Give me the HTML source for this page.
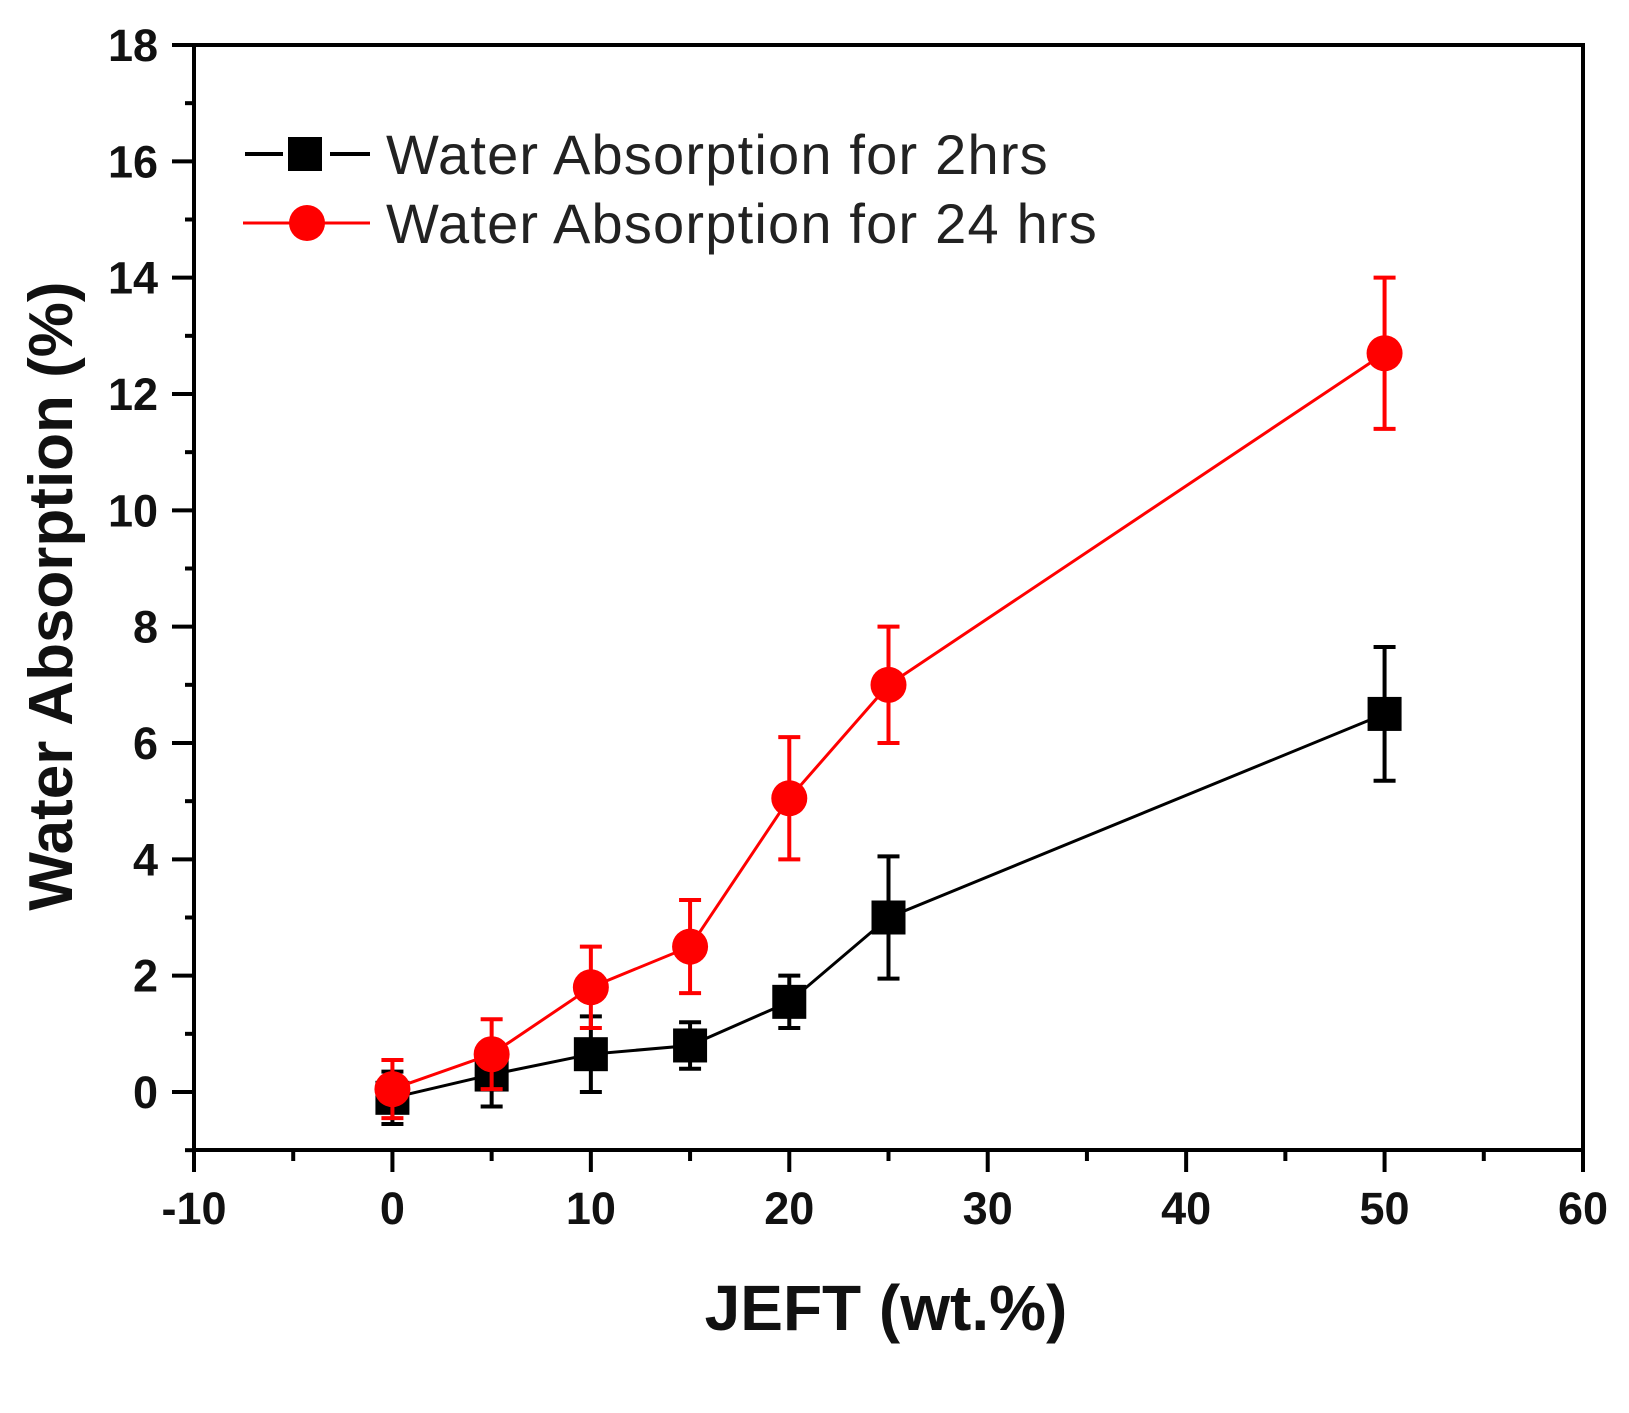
<!DOCTYPE html>
<html><head><meta charset="utf-8"><style>
html,body{margin:0;padding:0;background:#fff;}
svg{display:block;font-family:"Liberation Sans",Arial,sans-serif;}
</style></head><body>
<svg id="chart" width="1629" height="1413" viewBox="0 0 1629 1413">
<g id="plot"></g>
</svg>
<script>
const xTicks=[-10,0,10,20,30,40,50,60];
const yTicks=[0,2,4,6,8,10,12,14,16,18];
const xCats=[0,5,10,15,20,25,50];
const series2h=[-0.1,0.3,0.65,0.8,1.55,3.0,6.5];
const err2h=[0.45,0.55,0.65,0.4,0.45,1.05,1.15];
const series24h=[0.05,0.65,1.8,2.5,5.05,7.0,12.7];
const err24h=[0.5,0.6,0.7,0.8,1.05,1.0,1.3];

const L=194,R=1583,T=45,B=1150;
const X=v=>L+(v+10)/70*(R-L);
const Y0=1092,Y18=45;
const Y=v=>Y0+(Y18-Y0)*v/18;
const NS="http://www.w3.org/2000/svg";
const g=document.getElementById('plot');
function el(t,a,p){const e=document.createElementNS(NS,t);for(const k in a)e.setAttribute(k,a[k]);(p||g).appendChild(e);return e;}

const fr=el('rect',{x:L,y:T,width:R-L,height:B-T,fill:'none',stroke:'#000','stroke-width':4});



for(let v=-10;v<=60;v+=5){
  const major=v%10===0;
  const t=el('line',{x1:X(v),x2:X(v),y1:B,y2:B+(major?22:11),stroke:'#000','stroke-width':4});
  
  
}
xTicks.forEach(v=>{
  const t=el('text',{x:X(v),y:B+74,'font-size':45,'font-weight':'bold','text-anchor':'middle',fill:'#111'});
  t.textContent=v;
  
  
});
for(let v=-1;v<=18;v+=1){
  const major=v%2===0;
  const t=el('line',{x1:L,x2:L-(major?22:9),y1:Y(v),y2:Y(v),stroke:'#000','stroke-width':4});
  
  
}
yTicks.forEach(v=>{
  const t=el('text',{x:L-36,y:Y(v)+16,'font-size':45,'font-weight':'bold','text-anchor':'end',fill:'#111'});
  t.textContent=v;
  
  
});
const xt=el('text',{x:886,y:1330,'font-size':64,'font-weight':'bold','text-anchor':'middle',fill:'#111'});
xt.textContent='JEFT (wt.%)';


const yt=el('text',{x:0,y:0,'font-size':62,'font-weight':'bold','text-anchor':'middle',fill:'#111',transform:'translate(72,596) rotate(-90)'});
yt.textContent='Water Absorption (%)';



function drawSeries(vals,errs,color,shape,name){
  const pts=xCats.map((c,i)=>X(c)+','+Y(vals[i])).join(' ');
  const pl=el('polyline',{points:pts,fill:'none',stroke:color,'stroke-width':3});
  
  
  xCats.forEach((c,i)=>{
    const x=X(c),y=Y(vals[i]),hi=Y(vals[i]+errs[i]),lo=Y(vals[i]-errs[i]);
    const eb=el('path',{d:`M${x},${hi}V${lo}M${x-11},${hi}H${x+11}M${x-11},${lo}H${x+11}`,stroke:color,'stroke-width':4,fill:'none'});
    
    
    let m;
    if(shape==='sq') m=el('rect',{x:x-17,y:y-17,width:34,height:34,fill:color});
    else m=el('circle',{cx:x,cy:y,r:18,fill:color});
    
    
  });
}
drawSeries(series2h,err2h,'#000','sq','series-2hrs');
drawSeries(series24h,err24h,'#ff0000','ci','series-24hrs');

function legend(y,color,shape,label,name){
  let ln;
  if(shape==='sq'){
    ln=el('path',{d:`M245,${y}H283M330,${y}H370`,stroke:color,'stroke-width':4,fill:'none'});
  } else {
    ln=el('line',{x1:243,x2:370,y1:y,y2:y,stroke:color,'stroke-width':3});
  }
  
  
  let m;
  if(shape==='sq') m=el('rect',{x:288,y:y-17,width:34,height:34,fill:color});
  else m=el('circle',{cx:307,cy:y,r:18,fill:color});
  
  
  const t=el('text',{x:386,y:y+20,'font-size':56,fill:'#222','letter-spacing':'1.2'});
  t.textContent=label;
  
  
}
legend(154,'#000','sq','Water Absorption for 2hrs','series-2hrs');
legend(223,'#ff0000','ci','Water Absorption for 24 hrs','series-24hrs');
</script>
</body></html>
